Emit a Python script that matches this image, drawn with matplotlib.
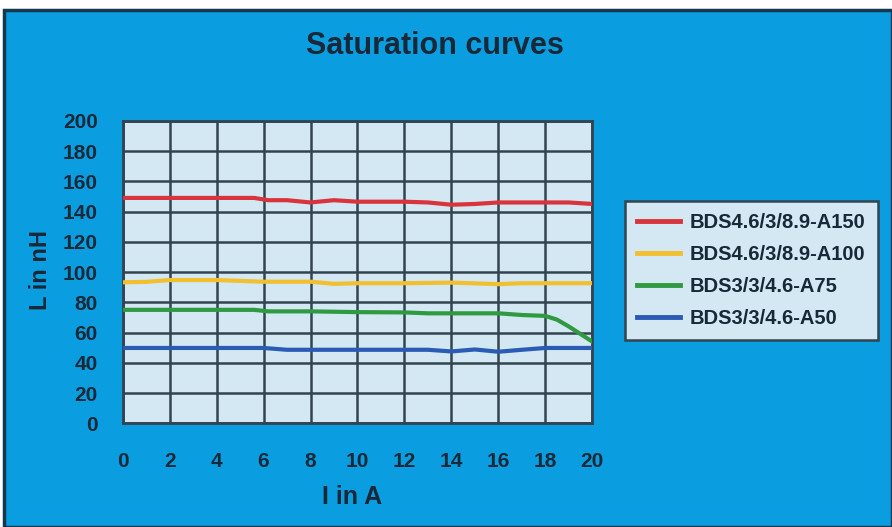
import matplotlib
matplotlib.use('Agg')
import matplotlib.pyplot as plt
from matplotlib.patches import Rectangle

# Values (current in A, inductance in nH).

red_x = [0, 2, 4, 5.6, 6.2, 7, 8, 9, 10, 11, 12, 13, 14, 15, 16, 17, 18, 19, 20]
red_y = [149, 149, 149, 149, 147.5, 147.5, 146, 147.5, 146.5, 146.5, 146.5, 146, 144.5, 145, 146, 146, 146, 146, 145]

yellow_x = [0, 1, 2, 4, 6, 8, 9, 10, 12, 14, 16, 17, 18, 20]
yellow_y = [93.2, 93.5, 94.7, 94.7, 93.6, 93.6, 92.2, 92.6, 92.6, 93, 92, 92.6, 92.6, 92.6]

green_x = [0, 2, 4, 5.6, 6.2, 8, 10, 12, 13, 14, 16, 17, 18, 18.5, 19, 19.5, 20]
green_y = [75, 75, 75, 75, 74, 74, 73.5, 73.3, 72.7, 72.7, 72.7, 71.6, 71, 68.5, 64, 59, 54]

blue_x = [0, 2, 4, 6, 7, 8, 10, 12, 13, 14, 15, 16, 17, 18, 19, 20]
blue_y = [49.8, 49.8, 49.8, 49.8, 48.6, 48.6, 48.6, 48.6, 48.6, 47.5, 48.8, 47.3, 48.6, 49.8, 49.8, 49.8]

series = [(red_x, red_y, '#d9343c', 'BDS4.6/3/8.9-A150'),
          (yellow_x, yellow_y, '#f2c02e', 'BDS4.6/3/8.9-A100'),
          (green_x, green_y, '#2f9a3f', 'BDS3/3/4.6-A75'),
          (blue_x, blue_y, '#2a5bb5', 'BDS3/3/4.6-A50')]

x_ticks = list(range(0, 21, 2))
y_ticks = list(range(0, 201, 20))

bg = '#0a9ee0'
text_col = '#172838'
grid_col = '#33434f'

plt.rcParams['font.family'] = ['Liberation Sans', 'DejaVu Sans']
plt.rcParams['font.weight'] = 'bold'

fig = plt.figure(figsize=(8.92, 5.27), dpi=100, facecolor='white')

# Blue panel with a dark frame, leaving a white strip on top.
fig.add_artist(Rectangle((0.004, 0.0), 0.996, 0.981, transform=fig.transFigure,
                         facecolor=bg, edgecolor='#14384f', linewidth=2.5, zorder=-10))

ax = fig.add_axes([0.1375, 0.1968, 0.5265, 0.574])
ax.set_facecolor('#d3e8f3')

for xs, ys, c, lab in series:
    ax.plot(xs, ys, color=c, linewidth=3, label=lab, zorder=3)

ax.set_xlim(0, 20)
ax.set_ylim(0, 200)
ax.set_xticks(x_ticks)
ax.set_yticks(y_ticks)
ax.grid(True, color=grid_col, linewidth=1.8, zorder=1)
ax.set_axisbelow(True)
for s in ax.spines.values():
    s.set_color(grid_col)
    s.set_linewidth(2)
ax.tick_params(length=0, labelsize=15, labelcolor=text_col)
ax.tick_params(axis='x', pad=21)
ax.tick_params(axis='y', pad=18)

fig.text(0.4875, 0.912, 'Saturation curves', ha='center', va='center',
         fontsize=22, fontweight='bold', color=text_col)
fig.text(0.395, 0.056, 'I in A', ha='center', va='center',
         fontsize=18, fontweight='bold', color=text_col)
fig.text(0.045, 0.487, 'L in nH', ha='center', va='center', rotation=90,
         fontsize=17, fontweight='bold', color=text_col)

leg = ax.legend(loc='center left', bbox_to_anchor=(0.701, 0.487),
                bbox_transform=fig.transFigure, fontsize=14.5, frameon=True,
                fancybox=False, handlelength=2.1, handletextpad=0.5,
                labelspacing=0.65, borderpad=0.6, borderaxespad=0)
leg.get_frame().set_facecolor('#d3e8f3')
leg.get_frame().set_edgecolor(grid_col)
leg.get_frame().set_linewidth(1.8)
leg.get_frame().set_alpha(1)
for t in leg.get_texts():
    t.set_color(text_col)
    t.set_fontweight('bold')
for h in leg.get_lines():
    h.set_linewidth(3.5)

fig.savefig('out.png', dpi=100, facecolor=fig.get_facecolor())
